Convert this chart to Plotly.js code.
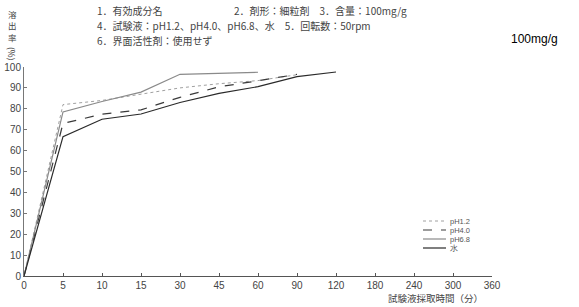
<!DOCTYPE html>
<html><head><meta charset="utf-8">
<script src="https://cdn.plot.ly/plotly-3.0.1.min.js"></script>
<style>html,body{margin:0;padding:0;background:#fff}#c{width:579px;height:307px}</style>
</head><body><div id="c"></div>
<script>
const timeLabels = ['0','5','10','15','30','45','60','90','120','180','240','300','360'];
const xPH12 = ['0','5','10','15','30','45','60','90'];
const yPH12 = [0, 82, 84, 87, 90, 92, 93.5, 96.3];
const xPH40 = ['0','5','10','15','30','45','60','90'];
const yPH40 = [0, 73, 77.4, 79.5, 85.5, 90.5, 93.4, 96.5];
const xPH68 = ['0','5','10','15','30','45','60'];
const yPH68 = [0, 78.5, 83.5, 88, 96.5, 97, 97.5];
const xWater = ['0','5','10','15','30','45','60','90','120'];
const yWater = [0, 66.7, 75, 77.5, 83, 87.4, 90.6, 95.4, 97.6];
const yTicks = [0,10,20,30,40,50,60,70,80,90,100];
const seriesNames = ['pH1.2','pH4.0','pH6.8','水'];

const L = 24, R = 492, T = 67, B = 276;
const px = v => (v - L) / (R - L);
const py = v => (B - v) / (B - T);

const styles = [
  {color:'#a0a0a0', width:1, dash:'dot'},
  {color:'#3a3a3a', width:1.2, dash:'dash'},
  {color:'#8a8a8a', width:1.2, dash:'solid'},
  {color:'#2a2a2a', width:1.2, dash:'solid'}
];
const xs = [xPH12, xPH40, xPH68, xWater];
const ys = [yPH12, yPH40, yPH68, yWater];
const data = seriesNames.map((n,i)=>({
  x: xs[i], y: ys[i], name: n, mode:'lines', type:'scatter',
  line: styles[i], showlegend:false, hoverinfo:'skip'
}));

const cjk = '"Noto Sans CJK JP", sans-serif';
const hdr = {family: cjk, size: 10, color:'#444'};
const ylab = {family: cjk, size: 8.5, color:'#444'};
const annotations = [
  {text:'1．有効成分名', x:px(95), y:py(10), xanchor:'left', yanchor:'middle', font:hdr},
  {text:'2．剤形：細粒剤　3．含量：100mg/g', x:px(232), y:py(10), xanchor:'left', yanchor:'middle', font:hdr},
  {text:'4．試験液：pH1.2、pH4.0、pH6.8、水　5．回転数：50rpm', x:px(95), y:py(25), xanchor:'left', yanchor:'middle', font:hdr},
  {text:'6．界面活性剤：使用せず', x:px(95), y:py(40), xanchor:'left', yanchor:'middle', font:hdr},
  {text:'100mg/g', x:px(509), y:py(39), xanchor:'left', yanchor:'middle', font:{family:'"Liberation Sans", Arial, sans-serif', size:12, color:'#000'}},
  {text:'溶', x:px(12), y:py(14), xanchor:'center', yanchor:'middle', borderpad:0, font:ylab},
  {text:'出', x:px(12), y:py(25.5), xanchor:'center', yanchor:'middle', borderpad:0, font:ylab},
  {text:'率', x:px(12), y:py(37), xanchor:'center', yanchor:'middle', borderpad:0, font:ylab},
  {text:'(%)', x:px(12), y:py(54), xanchor:'center', yanchor:'middle', borderpad:0, textangle:90, font:ylab},
  {text:'試験液採取時間（分）', x:px(435), y:py(298), xanchor:'center', yanchor:'middle', font:{family:cjk, size:9.5, color:'#444'}}
];
const shapes = [];
const rows = [221, 230, 239, 248];
seriesNames.forEach((n,i)=>{
  shapes.push({type:'line', xref:'paper', yref:'paper', x0:px(423), x1:px(446), y0:py(rows[i]), y1:py(rows[i]), line:styles[i]});
  annotations.push({text:n, x:px(449), y:py(rows[i]), xanchor:'left', yanchor:'middle', borderpad:0, font:{family:'"Liberation Sans", sans-serif', size:7.5, color:'#555'}});
});
annotations.forEach(a=>{a.xref='paper'; a.yref='paper'; a.showarrow=false;});

const tickFont = {family:'"Liberation Sans Narrow","Liberation Sans", sans-serif', size:10, color:'#444'};
const layout = {
  width:579, height:307,
  margin:{l:L, r:579-R, t:T, b:307-B, pad:0},
  paper_bgcolor:'#fff', plot_bgcolor:'#fff',
  showlegend:false,
  xaxis:{type:'category', categoryorder:'array', categoryarray:timeLabels,
    tickvals:timeLabels, ticktext:timeLabels, range:[0,12],
    showgrid:false, zeroline:false, showline:true, linecolor:'#555', linewidth:1,
    ticks:'inside', ticklen:3, tickcolor:'#555', tickfont:tickFont, fixedrange:true},
  yaxis:{range:[0,100], tickvals:yTicks, showgrid:false, zeroline:false,
    showline:true, linecolor:'#777', linewidth:1, ticks:'inside', ticklen:3, tickcolor:'#777',
    tickfont:tickFont, fixedrange:true},
  annotations, shapes
};
Plotly.newPlot('c', data, layout, {displayModeBar:false, staticPlot:true});
</script></body></html>
